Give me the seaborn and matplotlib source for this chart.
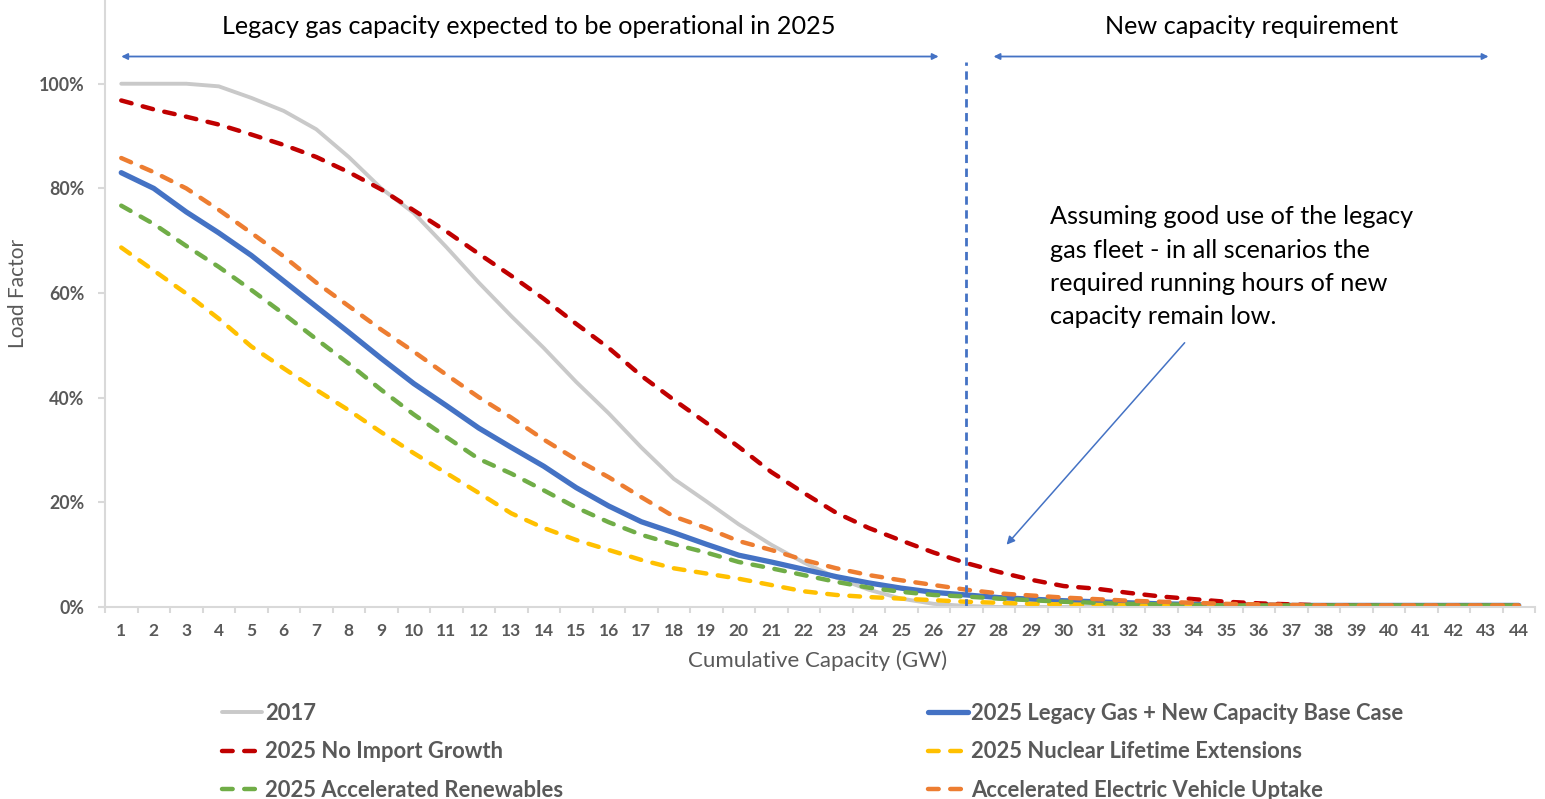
import matplotlib
matplotlib.use("Agg")
import matplotlib.pyplot as plt
from matplotlib.ticker import FixedLocator, FuncFormatter
import seaborn as sns
import pandas as pd

# Cumulative capacity categories (GW)
capacity_gw = list(range(1, 45))

# Load factor (%) by scenario
lf_2017 = [100, 100, 100, 99.5, 97.3, 94.8, 91.3, 86, 80, 75.3, 68.8, 62, 55.6, 49.5,
           43, 37, 30.5, 24.5, 20.2, 15.8, 11.9, 8.5, 5.6, 3.3, 1.6, 0.6, 0.2,
           0, 0, 0, 0, 0, 0, 0, 0, 0, 0, 0, 0, 0, 0, 0, 0, 0]
lf_base = [83, 80, 75.5, 71.5, 67.2, 62.3, 57.4, 52.5, 47.5, 42.7, 38.5, 34.2, 30.5, 26.9,
           22.8, 19.3, 16.3, 14.2, 12, 9.9, 8.6, 7.2, 5.8, 4.6, 3.6, 2.8, 2.3, 1.8,
           1.5, 1.2, 1.0, 0.8, 0.6, 0.5, 0.4, 0.4, 0.3, 0.3, 0.3, 0.3, 0.3, 0.3, 0.3, 0.3]
lf_no_import = [96.8, 95.1, 93.7, 92.2, 90.3, 88.3, 86, 83.1, 79.8, 75.8, 71.8, 67.5, 63.3,
                58.9, 54.1, 49.5, 44.2, 39.6, 35.2, 30.6, 25.8, 21.8, 18, 15.1, 12.7, 10.4,
                8.4, 6.7, 5.2, 4.0, 3.5, 2.7, 2.0, 1.5, 1.0, 0.7, 0.5, 0.3, 0.25, 0.2, 0.2,
                0.2, 0.2, 0.2]
lf_nuclear = [68.7, 64.3, 59.9, 55.1, 49.8, 45.6, 41.5, 37.6, 33.4, 29.4, 25.6, 21.8, 17.9,
              15.1, 12.8, 10.9, 9.0, 7.4, 6.4, 5.4, 4.2, 3.0, 2.3, 1.9, 1.6, 1.3, 1.0, 0.8,
              0.6, 0.5, 0.4, 0.3, 0.2, 0.2, 0.2, 0.2, 0.2, 0.2, 0.2, 0.2, 0.2, 0.2, 0.2, 0.2]
lf_renewables = [76.7, 73.2, 69, 65, 60.6, 56, 51.2, 46.5, 41.5, 36.8, 32.5, 28.3, 25.5,
                 22.3, 19, 16.2, 13.8, 12.0, 10.4, 8.6, 7.4, 6.1, 4.8, 3.7, 2.9, 2.3, 2.0,
                 1.6, 1.3, 1.0, 0.8, 0.6, 0.5, 0.4, 0.3, 0.3, 0.3, 0.3, 0.3, 0.3, 0.3, 0.3,
                 0.3, 0.3]
lf_ev = [85.8, 83.1, 80, 75.9, 71.5, 67, 62, 57.5, 53, 48.8, 44.4, 40.1, 36.2, 32, 28.2,
         24.8, 21, 17.3, 15.1, 12.6, 10.9, 9.0, 7.4, 6.1, 5.1, 4.2, 3.3, 2.6, 2.2, 1.8, 1.5,
         1.2, 1.0, 0.8, 0.6, 0.5, 0.4, 0.3, 0.3, 0.3, 0.3, 0.3, 0.3, 0.3]

series_names = ["2017",
                "2025 Legacy Gas + New Capacity Base Case",
                "2025 No Import Growth",
                "2025 Nuclear Lifetime Extensions",
                "2025 Accelerated Renewables",
                "Accelerated Electric Vehicle Uptake"]
series_values = [lf_2017, lf_base, lf_no_import, lf_nuclear, lf_renewables, lf_ev]

y_ticks = [0, 20, 40, 60, 80, 100]

legacy_label = "Legacy gas capacity expected to be operational in 2025"
new_label = "New capacity requirement"
note_text = ("Assuming good use of the legacy\n"
             "gas fleet - in all scenarios the\n"
             "required running hours of new\n"
             "capacity remain low.")
boundary_gw = 27

# Styling per series
colors = ["#C9C9C9", "#4472C4", "#C00000", "#FFC000", "#70AD47", "#ED7D31"]
widths = [2.8, 3.8, 3.2, 3.2, 3.2, 3.2]
dash = (0, (2.4, 2.6))
styles = ["-", "-", dash, dash, dash, dash]

sns.set_theme(style="white")
plt.rcParams["font.family"] = ["Lato", "DejaVu Sans"]

DPI = 100
W, H = 1545, 799
fig = plt.figure(figsize=(W / DPI, H / DPI), dpi=DPI)
ax = fig.add_axes([105 / W, (H - 607) / H, (1535 - 105) / W, 607 / H])

df = pd.DataFrame({"capacity": capacity_gw})
lines = {}
for name, vals, c, lw, ls in zip(series_names, series_values, colors, widths, styles):
    df[name] = vals
    sns.lineplot(data=df, x="capacity", y=name, ax=ax, color=c, linewidth=lw,
                 linestyle=ls, dash_capstyle="round", solid_capstyle="round",
                 solid_joinstyle="round", label=name, legend=False)
    lines[name] = ax.get_lines()[-1]

ax.set_xlim(0.5, 44.5)
ax.set_ylim(0, 116)

# Axes styling
for s in ["top", "right"]:
    ax.spines[s].set_visible(False)
for s in ["left", "bottom"]:
    ax.spines[s].set_color("#D9D9D9")
    ax.spines[s].set_linewidth(1.5)

ax.xaxis.set_major_locator(FixedLocator(capacity_gw))
ax.xaxis.set_minor_locator(FixedLocator([v + 0.5 for v in [0] + capacity_gw]))
ax.tick_params(axis="x", which="major", length=0, pad=11.5, labelsize=12.5,
               labelcolor="#595959")
ax.tick_params(axis="x", which="minor", length=4.5, width=1.5, color="#D9D9D9",
               bottom=True)
ax.yaxis.set_major_locator(FixedLocator(y_ticks))
ax.yaxis.set_major_formatter(FuncFormatter(lambda v, p: f"{v:.0f}%"))
ax.tick_params(axis="y", which="major", length=5, width=1.5, color="#D9D9D9",
               left=True, pad=10, labelsize=12.8, labelcolor="#595959")
for lab in ax.get_xticklabels() + ax.get_yticklabels():
    lab.set_fontweight("bold")
ax.set_xlabel("")
ax.set_ylabel("")
ax.grid(False)

fig.text(18 / W, 1 - 293 / H, "Load Factor", rotation=90, ha="center", va="center",
         fontsize=15, color="#595959")
fig.text(818 / W, 1 - 661 / H, "Cumulative Capacity (GW)", ha="center", va="center",
         fontsize=16, color="#595959")

# Region markers
arrow_blue = "#4472C4"
ax.axvline(boundary_gw, ymin=0, ymax=104.2 / 116, color=arrow_blue, lw=2,
           linestyle=(0, (3, 2)))
ax.annotate("", xy=(1.0, 105.2), xytext=(26.15, 105.2),
            arrowprops=dict(arrowstyle="<|-|>", color=arrow_blue, lw=1.3,
                            mutation_scale=9, shrinkA=0, shrinkB=0),
            annotation_clip=False)
ax.annotate("", xy=(27.84, 105.2), xytext=(43.07, 105.2),
            arrowprops=dict(arrowstyle="<|-|>", color=arrow_blue, lw=1.3,
                            mutation_scale=9, shrinkA=0, shrinkB=0),
            annotation_clip=False)
ax.text(13.53, 110.9, legacy_label, ha="center", va="center", fontsize=18.2, color="black")
ax.text(35.78, 110.9, new_label, ha="center", va="center", fontsize=18.2, color="black")

ax.text(29.59, 76.8, note_text, ha="left", va="top", fontsize=18.2, color="black",
        linespacing=1.55)
ax.annotate("", xy=(28.24, 11.9), xytext=(33.72, 50.5),
            arrowprops=dict(arrowstyle="-|>", color=arrow_blue, lw=1.1,
                            mutation_scale=12, shrinkA=0, shrinkB=0))

# Legend in two columns
col1 = ["2017", "2025 No Import Growth", "2025 Accelerated Renewables"]
col2 = ["2025 Legacy Gas + New Capacity Base Case", "2025 Nuclear Lifetime Extensions",
        "Accelerated Electric Vehicle Uptake"]
for names, x0 in [(col1, 222), (col2, 928)]:
    leg = fig.legend([lines[n] for n in names], names, loc="center left",
                     bbox_to_anchor=(x0 / W, (H - 752) / H), frameon=False,
                     borderpad=0, borderaxespad=0, handlelength=1.82,
                     handletextpad=0.14, labelspacing=0.8,
                     prop={"size": 15.8, "weight": "bold"})
    for t in leg.get_texts():
        t.set_color("#595959")

fig.savefig("out.png", dpi=DPI, facecolor="white")
